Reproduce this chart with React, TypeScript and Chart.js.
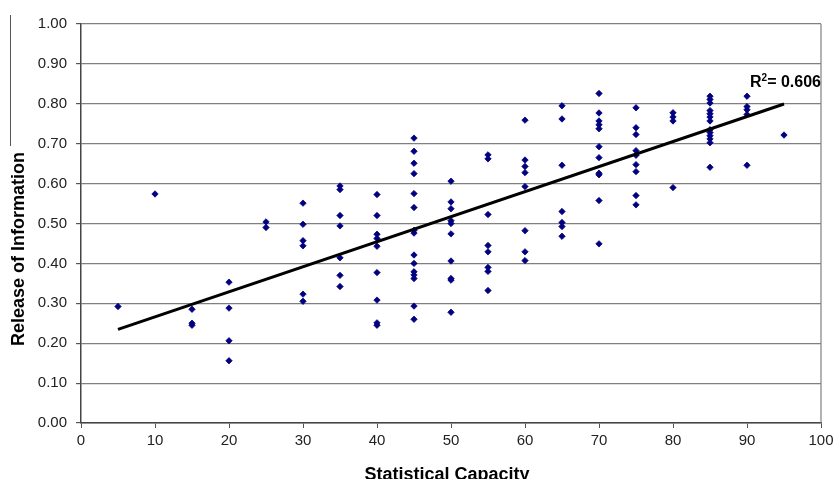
import React, { useEffect, useRef } from 'react';
import { Chart, registerables } from 'chart.js';

Chart.register(...registerables);

// Statistical capacity scores (x) and the release-of-information values seen at each score
const capacity = [5, 10, 15, 20, 25, 30, 35, 40, 45, 50, 55, 60, 65, 70, 75, 80, 85, 90, 95];

const release: number[][] = [
  [0.292],
  [0.574],
  [0.285, 0.25, 0.245],
  [0.353, 0.288, 0.206, 0.156],
  [0.504, 0.49],
  [0.551, 0.498, 0.457, 0.444, 0.323, 0.305],
  [0.594, 0.585, 0.52, 0.494, 0.414, 0.37, 0.342],
  [0.5725, 0.52, 0.473, 0.4625, 0.443, 0.377, 0.308, 0.251, 0.245],
  [0.714, 0.681, 0.651, 0.625, 0.575, 0.54, 0.483, 0.476, 0.421, 0.4, 0.379, 0.371, 0.362, 0.293, 0.26],
  [0.606, 0.554, 0.537, 0.507, 0.5, 0.474, 0.406, 0.362, 0.358, 0.2775],
  [0.672, 0.662, 0.5225, 0.445, 0.429, 0.39, 0.38, 0.332],
  [0.759, 0.659, 0.643, 0.6275, 0.5925, 0.482, 0.429, 0.407],
  [0.795, 0.762, 0.646, 0.53, 0.5025, 0.4925, 0.468],
  [0.826, 0.777, 0.757, 0.7475, 0.7375, 0.6925, 0.665, 0.626, 0.622, 0.5575, 0.449],
  [0.79, 0.74, 0.723, 0.6825, 0.671, 0.6475, 0.63, 0.57, 0.5467],
  [0.7775, 0.767, 0.757, 0.59],
  [0.819, 0.811, 0.802, 0.783, 0.775, 0.767, 0.757, 0.735, 0.728, 0.72, 0.712, 0.7025, 0.641],
  [0.819, 0.793, 0.785, 0.773, 0.646],
  [0.7217],
];

// Linear trend line
const trendSlope = 0.006274;
const trendIntercept = 0.2034;
const trendRange = [5, 95];
const r2Value = '0.606';

const xTitle = 'Statistical Capacity';
const yTitle = 'Release of Information';
const xTickValues = [0, 10, 20, 30, 40, 50, 60, 70, 80, 90, 100];
const yTickValues = [0, 0.1, 0.2, 0.3, 0.4, 0.5, 0.6, 0.7, 0.8, 0.9, 1.0];

const FONT = "'Liberation Sans', Arial, sans-serif";

export default function App() {
  const canvasRef = useRef<HTMLCanvasElement | null>(null);

  useEffect(() => {
    if (!canvasRef.current) return;

    const points: { x: number; y: number }[] = [];
    capacity.forEach((c, i) => {
      release[i].forEach((v) => points.push({ x: c, y: v }));
    });
    const trend = trendRange.map((x) => ({ x, y: trendIntercept + trendSlope * x }));

    const decorations = {
      id: 'decorations',
      afterDraw(chart: any) {
        const { ctx, chartArea } = chart;
        const xs = chart.scales.x;
        const ys = chart.scales.y;
        ctx.save();
        // right border of the plot
        ctx.strokeStyle = '#808080';
        ctx.lineWidth = 1.2;
        ctx.beginPath();
        ctx.moveTo(Math.round(chartArea.right), chartArea.top);
        ctx.lineTo(Math.round(chartArea.right), chartArea.bottom);
        ctx.stroke();
        // stray frame line at the top left
        ctx.strokeStyle = '#555555';
        ctx.lineWidth = 1;
        ctx.beginPath();
        ctx.moveTo(10.5, 15);
        ctx.lineTo(10.5, 146);
        ctx.stroke();

        // axis titles
        ctx.fillStyle = '#000000';
        ctx.font = `bold 18px ${FONT}`;
        ctx.textAlign = 'center';
        ctx.textBaseline = 'alphabetic';
        ctx.fillText(xTitle, (chartArea.left + chartArea.right) / 2 - 4, 479.5);
        ctx.save();
        ctx.translate(23.5, 249);
        ctx.rotate(-Math.PI / 2);
        ctx.fillText(yTitle, 0, 0);
        ctx.restore();

        // R² label, anchored at the end of the trend line
        const endX = xs.getPixelForValue(trendRange[1]);
        const endY = ys.getPixelForValue(trendIntercept + trendSlope * trendRange[1]);
        const right = endX + 37;
        const base = endY - 17;
        ctx.textAlign = 'left';
        ctx.font = `bold 16px ${FONT}`;
        const wR = ctx.measureText('R').width;
        const rest = `= ${r2Value}`;
        const wRest = ctx.measureText(rest).width;
        ctx.font = `bold 10px ${FONT}`;
        const w2 = ctx.measureText('2').width;
        let x = right - (wR + w2 + wRest);
        ctx.font = `bold 16px ${FONT}`;
        ctx.fillText('R', x, base);
        x += wR;
        ctx.font = `bold 10px ${FONT}`;
        ctx.fillText('2', x, base - 6);
        x += w2;
        ctx.font = `bold 16px ${FONT}`;
        ctx.fillText(rest, x, base);
        ctx.restore();
      },
    };

    const chart = new Chart(canvasRef.current, {
      type: 'scatter',
      data: {
        datasets: [
          {
            type: 'line',
            label: 'trend',
            data: trend,
            borderColor: '#000000',
            borderWidth: 3,
            pointRadius: 0,
            fill: false,
            order: 0,
          } as any,
          {
            type: 'scatter',
            label: 'countries',
            data: points,
            pointStyle: 'rectRot',
            pointRadius: 3.2,
            backgroundColor: '#000080',
            borderColor: '#000080',
            borderWidth: 0.8,
            order: 1,
          },
        ],
      },
      options: {
        animation: false,
        responsive: false,
        devicePixelRatio: 1,
        layout: { padding: { top: 24, right: 13, left: 0, bottom: 0 } },
        plugins: {
          legend: { display: false },
          tooltip: { enabled: false },
        },
        scales: {
          x: {
            type: 'linear',
            min: 0,
            max: 100,
            afterFit: (s: any) => {
              s.height = 56;
              s.paddingRight = 0;
              s.paddingLeft = 0;
            },
            afterBuildTicks: (s: any) => {
              s.ticks = xTickValues.map((v) => ({ value: v }));
            },
            ticks: {
              color: '#222222',
              font: { family: FONT, size: 15 },
              padding: 4,
              maxRotation: 0,
              autoSkip: false,
              callback: (v: any) => String(v),
            },
            grid: {
              drawOnChartArea: false,
              drawTicks: true,
              tickLength: 5,
              color: '#555555',
            },
            border: { color: '#444444', width: 1.5 },
          },
          y: {
            type: 'linear',
            min: 0,
            max: 1,
            afterFit: (s: any) => {
              s.width = 81;
              s.paddingTop = 0;
              s.paddingBottom = 0;
            },
            afterBuildTicks: (s: any) => {
              s.ticks = yTickValues.map((v) => ({ value: v }));
            },
            ticks: {
              color: '#222222',
              font: { family: FONT, size: 15 },
              padding: 9,
              autoSkip: false,
              callback: (v: any) => Number(v).toFixed(2),
            },
            grid: {
              color: '#808080',
              lineWidth: 1.2,
              tickLength: 5,
              tickColor: '#555555',
            },
            border: { color: '#444444', width: 1.5 },
          },
        },
      },
      plugins: [decorations],
    });

    return () => chart.destroy();
  }, []);

  return (
    <div style={{ position: 'fixed', left: 0, top: 0, width: 834, height: 479, background: '#ffffff' }}>
      <canvas ref={canvasRef} width={834} height={479} style={{ width: 834, height: 479, display: 'block' }} />
    </div>
  );
}
